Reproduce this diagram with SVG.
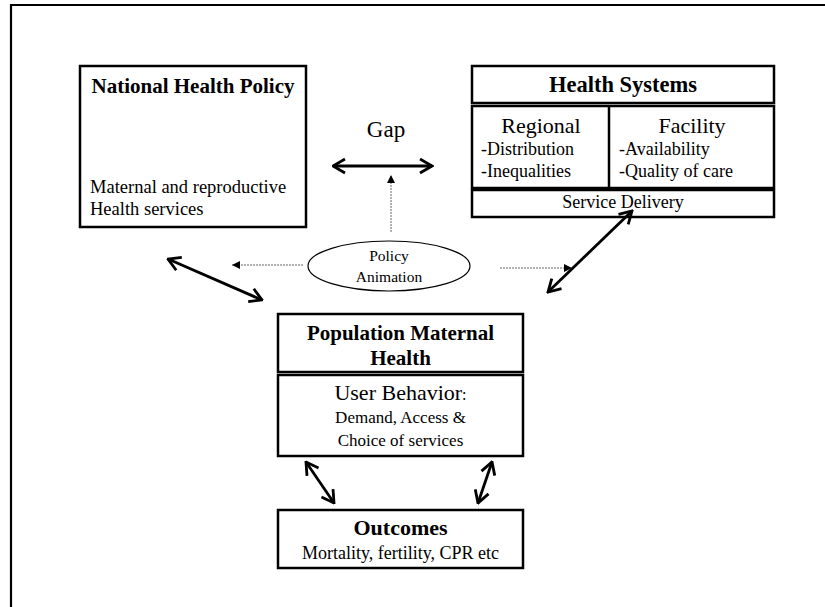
<svg xmlns="http://www.w3.org/2000/svg" width="825" height="607" viewBox="0 0 825 607">
  <style>
    .box { fill: #fff; stroke: #000; stroke-width: 2.5; }
    .frame { fill: none; stroke: #000; stroke-width: 2.2; }
    .t { font-family: "Liberation Serif", "Times New Roman", serif; fill: #000; }
    .b { font-weight: bold; }
    .mid { text-anchor: middle; }
    .link { stroke: #000; stroke-width: 2.8; fill: none; }
    .dot { stroke: #666; stroke-width: 1; stroke-dasharray: 2 1; fill: none; }
  </style>
  <defs>
    <marker id="open" viewBox="0 0 15 17" refX="13.5" refY="8.5" markerWidth="15" markerHeight="17" markerUnits="userSpaceOnUse" orient="auto-start-reverse">
      <path d="M1.5,1.5 L13.5,8.5 L1.5,15.5" fill="none" stroke="#000" stroke-width="2.8"/>
    </marker>
    <marker id="tri" viewBox="0 0 8 8" refX="8" refY="4" markerWidth="8" markerHeight="8" markerUnits="userSpaceOnUse" orient="auto">
      <path d="M0,0 L8,4 L0,8 Z" fill="#000"/>
    </marker>
  </defs>

  <rect width="825" height="607" fill="#fff"/>

  <!-- page frame -->
  <path class="frame" d="M11,607 V5 H825"/>

  <!-- National Health Policy -->
  <g id="national-health-policy">
    <rect class="box" x="80" y="66" width="226" height="161"/>
    <text class="t b mid" x="193" y="93" font-size="21">National Health Policy</text>
    <text class="t" x="90" y="193" font-size="18.5">Maternal and reproductive</text>
    <text class="t" x="90" y="215" font-size="18.5">Health services</text>
  </g>

  <!-- Health Systems -->
  <g id="health-systems">
    <rect class="box" x="472" y="66" width="302" height="37"/>
    <rect class="box" x="472" y="106" width="302" height="82"/>
    <rect class="box" x="472" y="190" width="302" height="27"/>
    <line x1="609" y1="106" x2="609" y2="188" stroke="#000" stroke-width="2.5"/>
    <text class="t b mid" x="623" y="92" font-size="22.5">Health Systems</text>
    <text class="t mid" x="541" y="133" font-size="22">Regional</text>
    <text class="t" x="481" y="155" font-size="18">-Distribution</text>
    <text class="t" x="481" y="177" font-size="18">-Inequalities</text>
    <text class="t mid" x="692" y="133" font-size="22">Facility</text>
    <text class="t" x="619" y="155" font-size="18">-Availability</text>
    <text class="t" x="619" y="177" font-size="18">-Quality of care</text>
    <text class="t mid" x="623" y="208" font-size="18">Service Delivery</text>
  </g>

  <!-- Gap label -->
  <g id="gap">
    <text class="t mid" x="386" y="137" font-size="23">Gap</text>
  </g>

  <!-- Policy Animation -->
  <g id="policy-animation">
    <ellipse cx="389" cy="266" rx="81" ry="25" fill="#fff" stroke="#000" stroke-width="1.2"/>
    <text class="t mid" x="389" y="261" font-size="15.5">Policy</text>
    <text class="t mid" x="389" y="282" font-size="15.5">Animation</text>
  </g>

  <!-- Population Maternal Health -->
  <g id="population-maternal-health">
    <rect class="box" x="278" y="314" width="245" height="58"/>
    <rect class="box" x="278" y="375" width="245" height="81"/>
    <text class="t b mid" x="400.5" y="340" font-size="21">Population Maternal</text>
    <text class="t b mid" x="400.5" y="365" font-size="21">Health</text>
    <text class="t mid" x="400.5" y="400" font-size="22">User Behavior<tspan font-size="16">:</tspan></text>
    <text class="t mid" x="400.5" y="423" font-size="17">Demand, Access &amp;</text>
    <text class="t mid" x="400.5" y="446" font-size="17">Choice of services</text>
  </g>

  <!-- Outcomes -->
  <g id="outcomes">
    <rect class="box" x="278" y="510" width="245" height="58"/>
    <text class="t b mid" x="400.5" y="535" font-size="22">Outcomes</text>
    <text class="t mid" x="400.5" y="559" font-size="18">Mortality, fertility, CPR etc</text>
  </g>

  <!-- connectors -->
  <g id="connectors">
    <line class="link" x1="333" y1="166" x2="432" y2="166" marker-start="url(#open)" marker-end="url(#open)"/>
    <line class="link" x1="168" y1="259" x2="262" y2="300" marker-start="url(#open)" marker-end="url(#open)"/>
    <line class="link" x1="632" y1="211" x2="548" y2="292" marker-start="url(#open)" marker-end="url(#open)"/>
    <line class="link" x1="306" y1="462" x2="334" y2="503" marker-start="url(#open)" marker-end="url(#open)"/>
    <line class="link" x1="492" y1="462" x2="478" y2="503" marker-start="url(#open)" marker-end="url(#open)"/>
    <line class="dot" x1="391" y1="232" x2="391" y2="175" marker-end="url(#tri)"/>
    <line class="dot" x1="303" y1="265" x2="232" y2="265" marker-end="url(#tri)"/>
    <line class="dot" x1="500" y1="268" x2="572" y2="268" marker-end="url(#tri)"/>
  </g>
</svg>
